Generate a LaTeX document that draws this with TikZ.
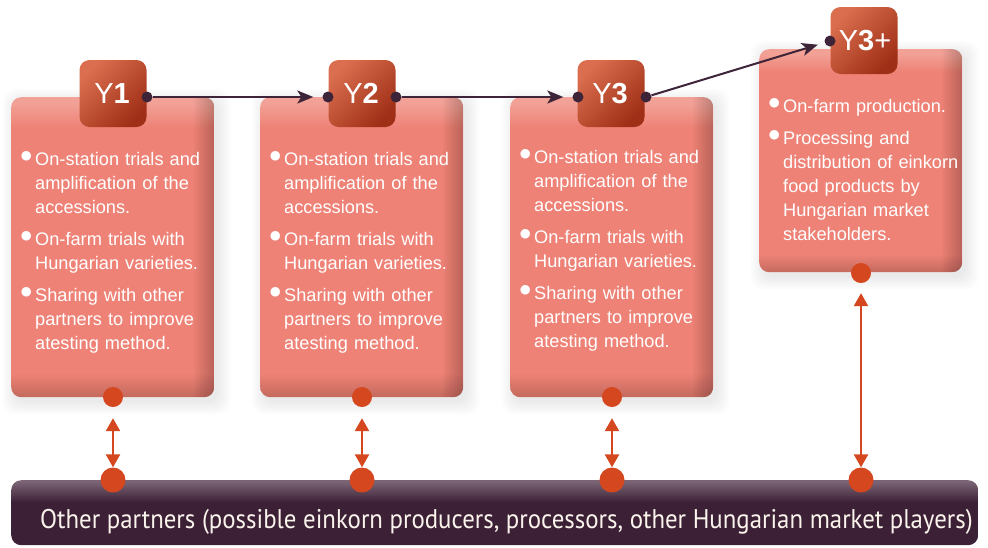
\documentclass[tikz,border=0pt]{standalone}
\usepackage{fontspec}
\setmainfont{Liberation Sans}
\newfontfamily\barfont[FakeStretch=0.92]{PT Sans}
\newfontfamily\dejavu{DejaVu Sans}
\usetikzlibrary{arrows.meta,shadings}
\definecolor{boxmain}{HTML}{EE8276}
\definecolor{boxlight}{HTML}{F2A196}
\definecolor{boxdark}{HTML}{C46A5E}
\definecolor{tabL}{HTML}{DA6E4E}
\definecolor{tabM}{HTML}{D0461F}
\definecolor{tabD}{HTML}{9F2F16}
\definecolor{barlight}{HTML}{7B6474}
\definecolor{bardark}{HTML}{3C2136}
\definecolor{dotorange}{HTML}{D5471F}
\definecolor{arrowdark}{HTML}{3D2438}
\definecolor{bartextcol}{HTML}{FBF4EC}
\pgfdeclareverticalshading{boxshade}{100bp}{color(0bp)=(boxdark); color(25bp)=(boxdark); color(29bp)=(boxmain); color(70bp)=(boxmain); color(74bp)=(boxlight); color(100bp)=(boxlight)}
\pgfdeclareverticalshading{barshade}{100bp}{color(0bp)=(bardark); color(58bp)=(bardark); color(74bp)=(barlight); color(100bp)=(barlight)}
\newcommand\bul{\leavevmode\llap{\raisebox{5.8pt}{\dejavu\fontsize{12.5}{12.5}\selectfont ●}\hspace{3.5pt}}}
\newcommand\boxedge[1]{%
  \begin{scope}
    \clip[rounded corners=10pt] (#1.north west) rectangle (#1.south east);
    \foreach \w in {2,4,...,20}{
      \fill[black,opacity=0.018] ([xshift=-\w pt]#1.north east) rectangle (#1.south east);
    }
  \end{scope}}
\newcommand\boxshadow[1]{%
  \foreach \g in {0,2,...,12}{
    \fill[black,opacity=0.012,rounded corners=12pt]
      ([xshift=4pt-\g pt,yshift=-4pt+\g pt]#1.north west) rectangle ([xshift=4pt+\g pt,yshift=-5pt-\g pt]#1.south east);
  }}
\begin{document}
\begin{tikzpicture}[x=1pt,y=-1pt,
  boxgeom/.style={rounded corners=10pt, draw=none, inner sep=0pt, anchor=north west, minimum width=203pt},
  boxnode/.style={boxgeom, shading=boxshade},
  tabnode/.style={rounded corners=10pt, shading=axis, top color=tabL, middle color=tabM, bottom color=tabD, shading angle=45, inner sep=0pt, minimum width=67pt, minimum height=67pt},
  tablabel/.style={text=white, font=\fontsize{29}{29}\selectfont, inner sep=0pt, anchor=base},
  bodytext/.style={text=white, font=\fontsize{18.2}{24}\selectfont, inner sep=0pt, anchor=base west, align=left, text width=200pt},
  cdot/.style={circle, fill=arrowdark, inner sep=0pt, minimum size=11pt},
  odotS/.style={circle, fill=dotorange, inner sep=0pt, minimum size=20pt},
  odotL/.style={circle, fill=dotorange, inner sep=0pt, minimum size=25pt},
  darrow/.style={draw=arrowdark, line width=2pt, -{Stealth[length=16pt,width=13pt,inset=4pt]}},
  oarrow/.style={draw=dotorange, line width=2.5pt, {Triangle[length=13pt,width=14pt]}-{Triangle[length=13pt,width=14pt]}}
]
\useasboundingbox (0,0) rectangle (988,547);
% boxes
\path (11,97) coordinate (p1) (260,97) coordinate (p2) (510,97) coordinate (p3) (759,49) coordinate (p4);
\node[boxgeom, minimum height=300pt] (s1) at (p1) {};
\node[boxgeom, minimum height=300pt] (s2) at (p2) {};
\node[boxgeom, minimum height=300pt] (s3) at (p3) {};
\node[boxgeom, minimum height=223pt] (s4) at (p4) {};
\boxshadow{s1}\boxshadow{s2}\boxshadow{s3}\boxshadow{s4}
\node[boxnode, minimum height=300pt] (b1) at (p1) {};
\node[boxnode, minimum height=300pt] (b2) at (p2) {};
\node[boxnode, minimum height=300pt] (b3) at (p3) {};
\node[boxnode, minimum height=223pt] (b4) at (p4) {};
\boxedge{b1}\boxedge{b2}\boxedge{b3}\boxedge{b4}
% bar
\node[rounded corners=10pt, shading=barshade, inner sep=0pt, anchor=north west, minimum width=967pt, minimum height=65pt] (bar) at (11,480) {};
\node[text=bartextcol, inner sep=0pt, anchor=base west, font=\barfont\fontsize{27}{27}\selectfont] (bartext) at (40,528) {Other partners (possible einkorn producers, processors, other Hungarian market players)};
% tabs
\node[tabnode] (y1) at (113,93.5) {};
\node[tabnode] (y2) at (362,93.5) {};
\node[tabnode] (y3) at (611,93.5) {};
\node[tabnode] (y4) at (864,40.5) {};
\node[tablabel] (l1) at (112,103) {Y\textbf{1}};
\node[tablabel] (l2) at (361,103) {Y\textbf{2}};
\node[tablabel] (l3) at (610,103) {Y\textbf{3}};
\node[tablabel] (l4) at (865,50) {Y\textbf{3}+};
% dark dots and arrows
\node[cdot] (c1r) at (147,97) {};
\node[cdot] (c2l) at (328,97) {};
\node[cdot] (c2r) at (396,97) {};
\node[cdot] (c3l) at (578,97) {};
\node[cdot] (c3r) at (646,97) {};
\node[cdot] (c4l) at (830,41) {};
\draw[darrow, shorten >=9pt] (c1r) -- (c2l);
\draw[darrow, shorten >=9pt] (c2r) -- (c3l);
\draw[darrow, shorten >=7pt] (c3r) -- (c4l);
% orange dots and arrows
\node[odotS] (o1t) at (113,397) {};
\node[odotS] (o2t) at (362,397) {};
\node[odotS] (o3t) at (612,397) {};
\node[odotS] (o4t) at (861,273) {};
\node[odotL] (o1b) at (113,480) {};
\node[odotL] (o2b) at (362,480) {};
\node[odotL] (o3b) at (612,480) {};
\node[odotL] (o4b) at (861,480) {};
\draw[oarrow, shorten <=11pt] (o1t) -- (o1b);
\draw[oarrow, shorten <=11pt] (o2t) -- (o2b);
\draw[oarrow, shorten <=11pt] (o3t) -- (o3b);
\draw[oarrow, shorten <=10pt] (o4t) -- (o4b);
% texts
\node[bodytext] (t1) at (35,165) {\bul On-station trials and\\ amplification of the\\ accessions.\\[8pt]\bul On-farm trials with\\ Hungarian varieties.\\[8pt]\bul Sharing with other\\ partners to improve\\ atesting method.};
\node[bodytext] (t2) at (284,165) {\bul On-station trials and\\ amplification of the\\ accessions.\\[8pt]\bul On-farm trials with\\ Hungarian varieties.\\[8pt]\bul Sharing with other\\ partners to improve\\ atesting method.};
\node[bodytext] (t3) at (534,163) {\bul On-station trials and\\ amplification of the\\ accessions.\\[8pt]\bul On-farm trials with\\ Hungarian varieties.\\[8pt]\bul Sharing with other\\ partners to improve\\ atesting method.};
\node[bodytext] (t4) at (783,112) {\bul On-farm production.\\[8pt]\bul Processing and\\ distribution of einkorn\\ food products by\\ Hungarian market\\ stakeholders.};
\end{tikzpicture}
\end{document}
